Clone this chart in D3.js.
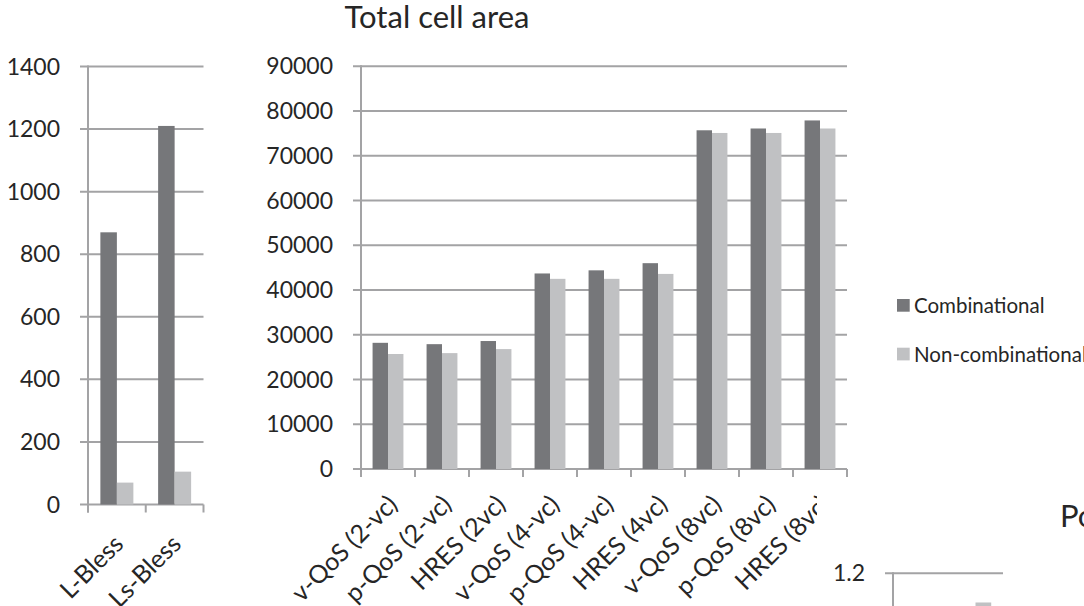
<!DOCTYPE html>
<html>
<head>
<meta charset="utf-8">
<script src="https://cdn.jsdelivr.net/npm/d3@7"></script>
<style>
  html, body { margin: 0; padding: 0; background: #ffffff; overflow: hidden; }
  svg { display: block; }
  text { font-family: Lato, "Open Sans", sans-serif; fill: #262626; }
</style>
</head>
<body>
<svg id="chart" width="1084" height="606"></svg>
<script>
// Small panel: Bless routers
const blessCategories = ["L-Bless", "Ls-Bless"];
const blessCombinational = [870, 1210];
const blessNonCombinational = [70, 105];
const blessTicks = [0, 200, 400, 600, 800, 1000, 1200, 1400];

// Main panel: total cell area
const areaCategories = ["v-QoS (2-vc)", "p-QoS (2-vc)", "HRES (2vc)", "v-QoS (4-vc)", "p-QoS (4-vc)",
                        "HRES (4vc)", "v-QoS (8vc)", "p-QoS (8vc)", "HRES (8vc)"];
const areaCombinational = [28200, 27900, 28600, 43700, 44400, 46000, 75700, 76100, 77900];
const areaNonCombinational = [25700, 25900, 26800, 42500, 42500, 43600, 75100, 75100, 76100];
const areaTicks = [0, 10000, 20000, 30000, 40000, 50000, 60000, 70000, 80000, 90000];

// Power panel (normalised)
const powerCategories = ["L-Bless", "Ls-Bless"];
const powerCombinational = [1.0, 1.0];
const powerNonCombinational = [0.98, 1.12];
const powerTicks = [0, 0.2, 0.4, 0.6, 0.8, 1.0, 1.2];

const seriesNames = ["Combinational", "Non-combinational"];
const seriesColors = ["#76777a", "#c0c1c3"];
const gridColor = "#a3a3a5";
const W = 1084, H = 606;

const svg = d3.select("#chart");
svg.append("rect").attr("width", W).attr("height", H).attr("fill", "#ffffff");

function drawPanel(opts) {
  const { cats, comb, non, ticks, x0, x1, yTop, yBottom, domainMax, fmt,
          labels, labelDx, labelDy, labelSize, background } = opts;
  const g = svg.append("g");
  if (background) {
    g.append("rect").attr("x", background[0]).attr("y", background[1])
      .attr("width", background[2]).attr("height", background[3]).attr("fill", "#ffffff");
  }
  const x = d3.scaleBand().domain(cats).range([x0, x1]).padding(0);
  const xs = d3.scaleBand().domain(seriesNames).range([0, x.bandwidth()])
    .paddingInner(0).paddingOuter(0.75);
  const y = d3.scaleLinear().domain([0, domainMax]).range([yBottom, yTop]);
  const shown = ticks.filter(d => y(d) <= H);

  // horizontal gridlines (the zero line doubles as the category axis)
  g.selectAll("line.grid").data(shown).join("line")
    .attr("x1", x0 - 8).attr("x2", x1)
    .attr("y1", d => y(d)).attr("y2", d => y(d))
    .attr("stroke", gridColor).attr("stroke-width", 2);

  // bars
  cats.forEach((c, i) => {
    [comb[i], non[i]].forEach((v, k) => {
      g.append("rect")
        .attr("x", x(c) + xs(seriesNames[k]))
        .attr("width", xs.bandwidth())
        .attr("y", y(v))
        .attr("height", y(0) - y(v))
        .attr("fill", seriesColors[k]);
    });
  });

  // vertical value axis
  g.append("line")
    .attr("x1", x0).attr("x2", x0)
    .attr("y1", y(domainMax) - 1).attr("y2", y(0) + 8)
    .attr("stroke", gridColor).attr("stroke-width", 2);

  // category tick marks
  const bounds = cats.map(c => x(c)).concat([x1]);
  g.selectAll("line.ctick").data(bounds).join("line")
    .attr("x1", d => d).attr("x2", d => d)
    .attr("y1", y(0)).attr("y2", y(0) + 8)
    .attr("stroke", gridColor).attr("stroke-width", 2);

  // value tick labels
  g.selectAll("text.ytick").data(shown).join("text")
    .attr("x", x0 - 28).attr("y", d => y(d) + 8)
    .attr("text-anchor", "end")
    .style("font-size", "23px")
    .text(fmt);

  // rotated category labels
  if (labels) {
    g.selectAll("text.cat").data(cats).join("text")
      .attr("transform", c => `translate(${x(c) + x.bandwidth() / 2 + labelDx},${y(0) + labelDy}) rotate(-45)`)
      .attr("text-anchor", "end")
      .style("font-size", labelSize + "px")
      .text(d => d);
  }
  return { x, y };
}

drawPanel({
  cats: blessCategories, comb: blessCombinational, non: blessNonCombinational,
  ticks: blessTicks, x0: 88, x1: 203.5, yTop: 66.5, yBottom: 504.5, domainMax: 1400,
  fmt: d => d3.format("d")(d), labels: true, labelDx: 8, labelDy: 41, labelSize: 25
});

drawPanel({
  cats: areaCategories, comb: areaCombinational, non: areaNonCombinational,
  ticks: areaTicks, x0: 361, x1: 847, yTop: 66.3, yBottom: 469, domainMax: 90000,
  fmt: d => d3.format("d")(d), labels: true, labelDx: 11, labelDy: 37, labelSize: 25
});

// power panel sits on its own white card, overlapping the corner of the area panel
drawPanel({
  cats: powerCategories, comb: powerCombinational, non: powerNonCombinational,
  ticks: powerTicks, x0: 893, x1: 1003, yTop: 573.3, yBottom: 1011, domainMax: 1.2,
  fmt: d => d3.format(".1f")(d), labels: false, background: [817, 488, W - 817, H - 488]
});

// titles
svg.append("text").attr("x", 437).attr("y", 28).attr("text-anchor", "middle")
  .style("font-size", "31px").text("Total cell area");
svg.append("text").attr("x", 1060).attr("y", 527).attr("text-anchor", "start")
  .style("font-size", "31px").text("Power");

// legend
const legend = svg.append("g");
seriesNames.forEach((name, i) => {
  const ly = 299 + i * 48.7;
  legend.append("rect").attr("x", 897).attr("y", ly).attr("width", 12.7).attr("height", 12.7)
    .attr("fill", seriesColors[i]);
  legend.append("text").attr("x", 914).attr("y", ly + 14).style("font-size", "20.5px").text(name);
});
</script>
</body>
</html>
